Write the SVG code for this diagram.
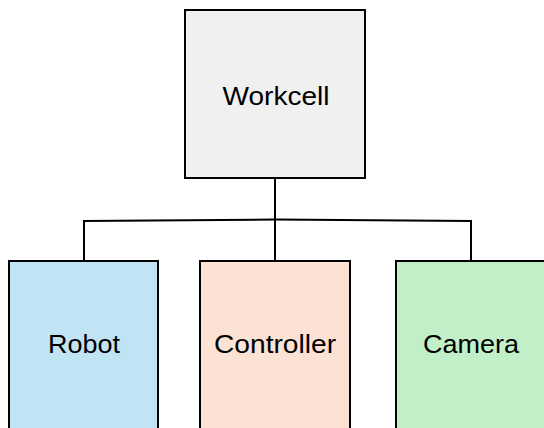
<svg xmlns="http://www.w3.org/2000/svg" width="544" height="428" viewBox="0 0 544 428">
  <style>
    .box { stroke: #000; stroke-width: 2; }
    .label { font-family: "Liberation Sans", Arial, sans-serif; font-size: 25px; fill: #000; text-anchor: middle; }
    .wire { fill: none; stroke: #000; stroke-width: 2; }
  </style>
  <rect width="544" height="428" fill="#fff"/>
  <g id="connectors">
    <path class="wire" d="M275 178 V260"/>
    <path class="wire" d="M84 260 V221 L275 219.5 L471 221 V260"/>
  </g>
  <g id="workcell">
    <rect class="box" x="185" y="10" width="180" height="168" fill="#f0f0f0"/>
    <text class="label" x="276" y="105" textLength="107" lengthAdjust="spacingAndGlyphs">Workcell</text>
  </g>
  <g id="robot">
    <rect class="box" x="9" y="261" width="149" height="180" fill="#c1e4f5"/>
    <text class="label" x="84" y="353" textLength="72" lengthAdjust="spacingAndGlyphs">Robot</text>
  </g>
  <g id="controller">
    <rect class="box" x="200" y="261" width="150" height="180" fill="#fbe2d5"/>
    <text class="label" x="275" y="353" textLength="122" lengthAdjust="spacingAndGlyphs">Controller</text>
  </g>
  <g id="camera">
    <rect class="box" x="396" y="261" width="160" height="180" fill="#c1f0c8"/>
    <text class="label" x="471" y="353" textLength="96" lengthAdjust="spacingAndGlyphs">Camera</text>
  </g>
</svg>
